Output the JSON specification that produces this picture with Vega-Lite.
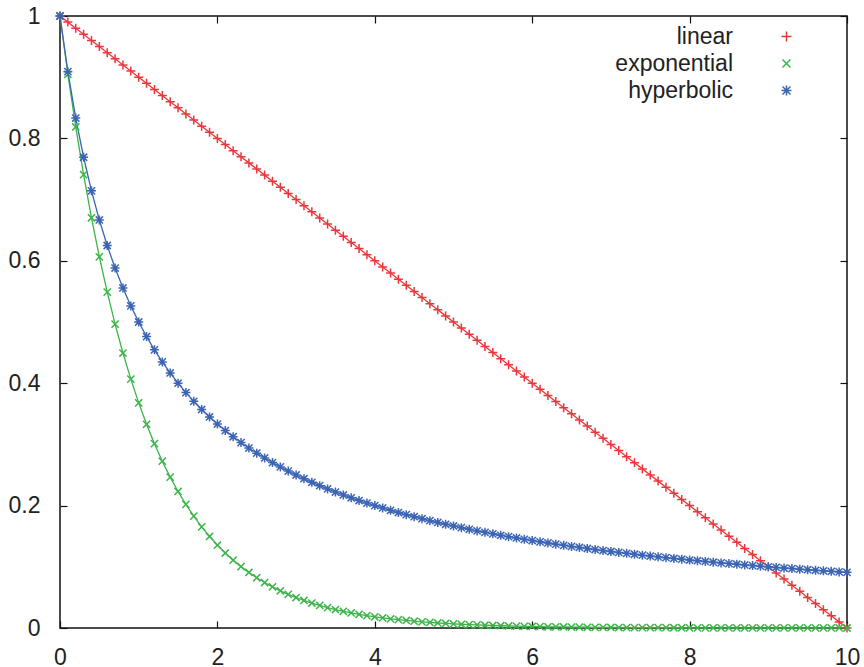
{
  "$schema": "https://vega.github.io/schema/vega-lite/v6.json",
  "width": 787,
  "height": 612,
  "autosize": "none",
  "padding": {"left": 60, "top": 16, "right": 17, "bottom": 39},
  "background": "white",
  "config": {
    "font": "Liberation Sans",
    "view": {"stroke": "#111111", "strokeWidth": 1.5},
    "axis": {"grid": false, "domain": false, "tickColor": "#111111", "tickWidth": 1.2, "labelFont": "Liberation Sans", "labelFontSize": 23, "labelColor": "#222222", "title": null, "labelFlush": false}
  },
  "data": {"values": [
    {"x":0,"linear":1,"exponential":1,"hyperbolic":1},
    {"x":0.1,"linear":0.99,"exponential":0.9048,"hyperbolic":0.9091},
    {"x":0.2,"linear":0.98,"exponential":0.8187,"hyperbolic":0.8333},
    {"x":0.3,"linear":0.97,"exponential":0.7408,"hyperbolic":0.7692},
    {"x":0.4,"linear":0.96,"exponential":0.6703,"hyperbolic":0.7143},
    {"x":0.5,"linear":0.95,"exponential":0.6065,"hyperbolic":0.6667},
    {"x":0.6,"linear":0.94,"exponential":0.5488,"hyperbolic":0.625},
    {"x":0.7,"linear":0.93,"exponential":0.4966,"hyperbolic":0.5882},
    {"x":0.8,"linear":0.92,"exponential":0.4493,"hyperbolic":0.5556},
    {"x":0.9,"linear":0.91,"exponential":0.4066,"hyperbolic":0.5263},
    {"x":1.0,"linear":0.9,"exponential":0.3679,"hyperbolic":0.5},
    {"x":1.1,"linear":0.89,"exponential":0.3329,"hyperbolic":0.4762},
    {"x":1.2,"linear":0.88,"exponential":0.3012,"hyperbolic":0.4545},
    {"x":1.3,"linear":0.87,"exponential":0.2725,"hyperbolic":0.4348},
    {"x":1.4,"linear":0.86,"exponential":0.2466,"hyperbolic":0.4167},
    {"x":1.5,"linear":0.85,"exponential":0.2231,"hyperbolic":0.4},
    {"x":1.6,"linear":0.84,"exponential":0.2019,"hyperbolic":0.3846},
    {"x":1.7,"linear":0.83,"exponential":0.1827,"hyperbolic":0.3704},
    {"x":1.8,"linear":0.82,"exponential":0.1653,"hyperbolic":0.3571},
    {"x":1.9,"linear":0.81,"exponential":0.1496,"hyperbolic":0.3448},
    {"x":2.0,"linear":0.8,"exponential":0.1353,"hyperbolic":0.3333},
    {"x":2.1,"linear":0.79,"exponential":0.1225,"hyperbolic":0.3226},
    {"x":2.2,"linear":0.78,"exponential":0.1108,"hyperbolic":0.3125},
    {"x":2.3,"linear":0.77,"exponential":0.1003,"hyperbolic":0.3030},
    {"x":2.4,"linear":0.76,"exponential":0.0907,"hyperbolic":0.2941},
    {"x":2.5,"linear":0.75,"exponential":0.0821,"hyperbolic":0.2857},
    {"x":2.6,"linear":0.74,"exponential":0.0743,"hyperbolic":0.2778},
    {"x":2.7,"linear":0.73,"exponential":0.0672,"hyperbolic":0.2703},
    {"x":2.8,"linear":0.72,"exponential":0.0608,"hyperbolic":0.2632},
    {"x":2.9,"linear":0.71,"exponential":0.0550,"hyperbolic":0.2564},
    {"x":3.0,"linear":0.7,"exponential":0.0498,"hyperbolic":0.25},
    {"x":3.1,"linear":0.69,"exponential":0.0450,"hyperbolic":0.2439},
    {"x":3.2,"linear":0.68,"exponential":0.0408,"hyperbolic":0.2381},
    {"x":3.3,"linear":0.67,"exponential":0.0369,"hyperbolic":0.2326},
    {"x":3.4,"linear":0.66,"exponential":0.0334,"hyperbolic":0.2273},
    {"x":3.5,"linear":0.65,"exponential":0.0302,"hyperbolic":0.2222},
    {"x":3.6,"linear":0.64,"exponential":0.0273,"hyperbolic":0.2174},
    {"x":3.7,"linear":0.63,"exponential":0.0247,"hyperbolic":0.2128},
    {"x":3.8,"linear":0.62,"exponential":0.0224,"hyperbolic":0.2083},
    {"x":3.9,"linear":0.61,"exponential":0.0202,"hyperbolic":0.2041},
    {"x":4.0,"linear":0.6,"exponential":0.0183,"hyperbolic":0.2},
    {"x":4.1,"linear":0.59,"exponential":0.0166,"hyperbolic":0.1961},
    {"x":4.2,"linear":0.58,"exponential":0.0150,"hyperbolic":0.1923},
    {"x":4.3,"linear":0.57,"exponential":0.0136,"hyperbolic":0.1887},
    {"x":4.4,"linear":0.56,"exponential":0.0123,"hyperbolic":0.1852},
    {"x":4.5,"linear":0.55,"exponential":0.0111,"hyperbolic":0.1818},
    {"x":4.6,"linear":0.54,"exponential":0.0101,"hyperbolic":0.1786},
    {"x":4.7,"linear":0.53,"exponential":0.0091,"hyperbolic":0.1754},
    {"x":4.8,"linear":0.52,"exponential":0.0082,"hyperbolic":0.1724},
    {"x":4.9,"linear":0.51,"exponential":0.0074,"hyperbolic":0.1695},
    {"x":5.0,"linear":0.5,"exponential":0.0067,"hyperbolic":0.1667},
    {"x":5.1,"linear":0.49,"exponential":0.0061,"hyperbolic":0.1639},
    {"x":5.2,"linear":0.48,"exponential":0.0055,"hyperbolic":0.1613},
    {"x":5.3,"linear":0.47,"exponential":0.0050,"hyperbolic":0.1587},
    {"x":5.4,"linear":0.46,"exponential":0.0045,"hyperbolic":0.1563},
    {"x":5.5,"linear":0.45,"exponential":0.0041,"hyperbolic":0.1538},
    {"x":5.6,"linear":0.44,"exponential":0.0037,"hyperbolic":0.1515},
    {"x":5.7,"linear":0.43,"exponential":0.0033,"hyperbolic":0.1493},
    {"x":5.8,"linear":0.42,"exponential":0.0030,"hyperbolic":0.1471},
    {"x":5.9,"linear":0.41,"exponential":0.0027,"hyperbolic":0.1449},
    {"x":6.0,"linear":0.4,"exponential":0.0025,"hyperbolic":0.1429},
    {"x":6.1,"linear":0.39,"exponential":0.0022,"hyperbolic":0.1408},
    {"x":6.2,"linear":0.38,"exponential":0.0020,"hyperbolic":0.1389},
    {"x":6.3,"linear":0.37,"exponential":0.0018,"hyperbolic":0.1370},
    {"x":6.4,"linear":0.36,"exponential":0.0017,"hyperbolic":0.1351},
    {"x":6.5,"linear":0.35,"exponential":0.0015,"hyperbolic":0.1333},
    {"x":6.6,"linear":0.34,"exponential":0.0014,"hyperbolic":0.1316},
    {"x":6.7,"linear":0.33,"exponential":0.0012,"hyperbolic":0.1299},
    {"x":6.8,"linear":0.32,"exponential":0.0011,"hyperbolic":0.1282},
    {"x":6.9,"linear":0.31,"exponential":0.0010,"hyperbolic":0.1266},
    {"x":7.0,"linear":0.3,"exponential":0.0009,"hyperbolic":0.125},
    {"x":7.1,"linear":0.29,"exponential":0.0008,"hyperbolic":0.1235},
    {"x":7.2,"linear":0.28,"exponential":0.0007,"hyperbolic":0.1220},
    {"x":7.3,"linear":0.27,"exponential":0.0007,"hyperbolic":0.1205},
    {"x":7.4,"linear":0.26,"exponential":0.0006,"hyperbolic":0.1190},
    {"x":7.5,"linear":0.25,"exponential":0.0006,"hyperbolic":0.1176},
    {"x":7.6,"linear":0.24,"exponential":0.0005,"hyperbolic":0.1163},
    {"x":7.7,"linear":0.23,"exponential":0.0005,"hyperbolic":0.1149},
    {"x":7.8,"linear":0.22,"exponential":0.0004,"hyperbolic":0.1136},
    {"x":7.9,"linear":0.21,"exponential":0.0004,"hyperbolic":0.1124},
    {"x":8.0,"linear":0.2,"exponential":0.0003,"hyperbolic":0.1111},
    {"x":8.1,"linear":0.19,"exponential":0.0003,"hyperbolic":0.1099},
    {"x":8.2,"linear":0.18,"exponential":0.0003,"hyperbolic":0.1087},
    {"x":8.3,"linear":0.17,"exponential":0.0002,"hyperbolic":0.1075},
    {"x":8.4,"linear":0.16,"exponential":0.0002,"hyperbolic":0.1064},
    {"x":8.5,"linear":0.15,"exponential":0.0002,"hyperbolic":0.1053},
    {"x":8.6,"linear":0.14,"exponential":0.0002,"hyperbolic":0.1042},
    {"x":8.7,"linear":0.13,"exponential":0.0002,"hyperbolic":0.1031},
    {"x":8.8,"linear":0.12,"exponential":0.0002,"hyperbolic":0.1020},
    {"x":8.9,"linear":0.11,"exponential":0.0001,"hyperbolic":0.1010},
    {"x":9.0,"linear":0.1,"exponential":0.0001,"hyperbolic":0.1},
    {"x":9.1,"linear":0.09,"exponential":0.0001,"hyperbolic":0.0990},
    {"x":9.2,"linear":0.08,"exponential":0.0001,"hyperbolic":0.0980},
    {"x":9.3,"linear":0.07,"exponential":0.0001,"hyperbolic":0.0971},
    {"x":9.4,"linear":0.06,"exponential":0.0001,"hyperbolic":0.0962},
    {"x":9.5,"linear":0.05,"exponential":0.0001,"hyperbolic":0.0952},
    {"x":9.6,"linear":0.04,"exponential":0.0001,"hyperbolic":0.0943},
    {"x":9.7,"linear":0.03,"exponential":0.0001,"hyperbolic":0.0935},
    {"x":9.8,"linear":0.02,"exponential":0.0001,"hyperbolic":0.0926},
    {"x":9.9,"linear":0.01,"exponential":0.0001,"hyperbolic":0.0917},
    {"x":10.0,"linear":0,"exponential":0.0000,"hyperbolic":0.0909}
  ]},
  "transform": [
    {"fold": ["linear", "exponential", "hyperbolic"], "as": ["series", "y"]}
  ],
  "resolve": {"axis": {"x": "independent", "y": "independent"}},
  "layer": [
    {
      "mark": {"type": "line", "strokeWidth": 1.3, "clip": false},
      "encoding": {
        "x": {"field": "x", "type": "quantitative", "scale": {"domain": [0, 10], "nice": false, "zero": false},
              "axis": {"orient": "bottom", "values": [0, 2, 4, 6, 8, 10], "tickSize": -7, "labelPadding": 25}},
        "y": {"field": "y", "type": "quantitative", "scale": {"domain": [0, 1], "nice": false},
              "axis": {"orient": "left", "values": [0, 0.2, 0.4, 0.6, 0.8, 1], "format": "~g", "tickSize": -7, "labelPadding": 27}},
        "color": {"field": "series", "type": "nominal",
          "scale": {"domain": ["linear", "exponential", "hyperbolic"], "range": ["#e8383d", "#3cb44a", "#3c64b4"]},
          "legend": {"title": null, "orient": "none", "legendX": 715, "legendY": 9, "padding": 0,
            "labelFont": "Liberation Sans", "labelFontSize": 23, "labelColor": "#222222", "labelAlign": "right",
            "labelOffset": -65, "symbolSize": 100, "rowPadding": 3, "symbolStrokeWidth": 1.5}
        }
      }
    },
    {
      "mark": {"type": "point", "filled": false, "strokeWidth": 1.5, "size": 81, "opacity": 1, "clip": false},
      "encoding": {
        "x": {"field": "x", "type": "quantitative",
              "axis": {"orient": "top", "values": [0, 2, 4, 6, 8, 10], "tickSize": -7, "labels": false}},
        "y": {"field": "y", "type": "quantitative",
              "axis": {"orient": "right", "values": [0, 0.2, 0.4, 0.6, 0.8, 1], "tickSize": -7, "labels": false}},
        "color": {"field": "series", "type": "nominal", "legend": null},
        "shape": {"field": "series", "type": "nominal", "legend": null,
          "scale": {"domain": ["linear", "exponential", "hyperbolic"],
                    "range": ["M-1,0L1,0M0,-1L0,1", "M-0.8,-0.8L0.8,0.8M-0.8,0.8L0.8,-0.8", "M-1,0L1,0M0,-1L0,1M-0.8,-0.8L0.8,0.8M-0.8,0.8L0.8,-0.8"]}}
      }
    }
  ]
}
